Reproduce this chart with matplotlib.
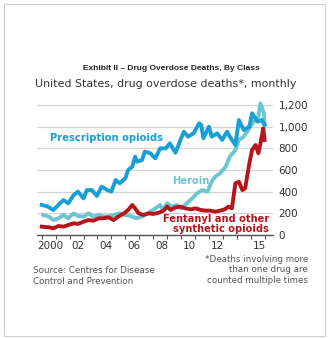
import matplotlib.pyplot as plt
from matplotlib.patches import Rectangle

# values (decimal year, deaths per month)
rx_years = [2000.0, 2000.4, 2000.84, 2001.3, 2001.56, 2001.9, 2002.3, 2002.6, 2003.0, 2003.24,
            2003.6, 2003.96, 2004.3, 2004.7, 2005.0, 2005.3, 2005.6, 2006.0, 2006.2, 2006.5,
            2006.7, 2006.85, 2007.2, 2007.4, 2007.8, 2008.15, 2008.5, 2008.9, 2009.2, 2009.6,
            2010.2, 2010.5, 2010.9, 2011.3, 2011.45, 2011.6, 2012.0, 2012.2, 2012.6, 2012.95,
            2013.3, 2013.5, 2013.9, 2014.15, 2014.5, 2014.9, 2015.1, 2015.5, 2015.8, 2016.0]
rx_vals = [277, 265, 231, 292, 323, 292, 370, 400, 338, 415,
           415, 360, 446, 415, 400, 508, 477, 523, 600, 631,
           723, 677, 692, 770, 754, 708, 800, 800, 846, 760,
           954, 908, 938, 1031, 1015, 892, 1000, 908, 938, 877,
           954, 908, 831, 1062, 969, 1000, 1123, 1046, 1062, 1015]

her_years = [2000.1, 2000.5, 2000.84, 2001.2, 2001.56, 2001.9, 2002.3, 2002.6, 2003.0, 2003.36,
             2003.7, 2004.1, 2004.5, 2004.9, 2005.2, 2005.6, 2006.0, 2006.4, 2006.8, 2007.2,
             2007.4, 2007.8, 2008.15, 2008.5, 2008.7, 2009.0, 2009.3, 2009.7, 2010.0, 2010.4,
             2010.8, 2011.15, 2011.5, 2011.9, 2012.2, 2012.45, 2012.8, 2013.2, 2013.5, 2013.9,
             2014.15, 2014.5, 2014.9, 2015.2, 2015.5, 2015.7, 2015.95, 2016.0]
her_vals = [185, 170, 138, 154, 185, 154, 200, 175, 170, 200,
            170, 185, 170, 175, 185, 200, 185, 175, 154, 170,
            185, 215, 246, 277, 231, 292, 262, 277, 246, 292,
            338, 385, 415, 400, 492, 538, 569, 631, 723, 785,
            877, 908, 985, 1046, 1062, 1215, 1123, 1031]

fen_years = [2000.0, 2000.5, 2000.84, 2001.2, 2001.56, 2001.9, 2002.3, 2002.6, 2003.0, 2003.36,
             2003.7, 2004.1, 2004.4, 2004.8, 2005.15, 2005.5, 2005.9, 2006.2, 2006.5, 2006.7,
             2006.95, 2007.3, 2007.7, 2008.0, 2008.4, 2008.75, 2009.0, 2009.25, 2009.6, 2009.95,
             2010.3, 2010.7, 2011.05, 2011.4, 2011.8, 2012.1, 2012.45, 2012.8, 2013.15, 2013.4,
             2013.65, 2013.9, 2014.15, 2014.4, 2014.6, 2014.9, 2015.1, 2015.35, 2015.55, 2015.7,
             2015.9, 2016.0]
fen_vals = [77, 71, 62, 83, 77, 92, 108, 102, 123, 138,
            132, 154, 154, 163, 138, 170, 200, 231, 277, 246,
            200, 185, 200, 194, 206, 225, 262, 231, 255, 262,
            246, 237, 246, 231, 225, 225, 215, 225, 237, 262,
            246, 477, 492, 415, 431, 661, 785, 831, 754, 846,
            985, 877]

yticks = [0, 200, 400, 600, 800, 1000, 1200]
ytick_labels = ['0', '200', '400', '600', '800', '1,000', '1,200']
xlabel_years = [2000, 2002, 2004, 2006, 2008, 2010, 2012, 2015]
xlabel_text = ['2000', '02', '04', '06', '08', '10', '12', '15']

blue = '#179fd6'
teal = '#6cc6cf'
red = '#b7141b'
W, H = 330, 338

fig = plt.figure(figsize=(W / 100, H / 100), dpi=100)
fig.patch.set_facecolor('white')

# light frame round the whole graphic
fig.add_artist(Rectangle((4 / W, 1 - 336 / H), 321 / W, 332 / H, transform=fig.transFigure,
                         fill=False, ec='#cfcfcf', lw=0.8))

ax = fig.add_axes([37 / W, 1 - 235 / H, 236 / W, (235 - 98.5) / H])
ax.set_xlim(1999.66, 2016.6)
ax.set_ylim(0, 1260)

for s in ['top', 'right', 'left']:
    ax.spines[s].set_visible(False)
ax.spines['bottom'].set_color('#555555')
ax.spines['bottom'].set_linewidth(1.0)

ax.grid(axis='y', color='#d4d4d4', lw=0.9)
ax.set_axisbelow(True)
ax.yaxis.tick_right()
ax.set_yticks(yticks)
ax.set_yticklabels(ytick_labels)
ax.tick_params(axis='y', length=0, pad=4, labelsize=7.5, labelcolor='#333333')

# year ticks at boundaries, labels centred in the year
ax.set_xticks(range(2000, 2017))
ax.set_xticklabels([])
ax.tick_params(axis='x', which='major', length=3, width=0.8, color='#555555', direction='out')
ax.set_xticks([y + 0.6 for y in xlabel_years], minor=True)
ax.set_xticklabels(xlabel_text, minor=True)
ax.tick_params(axis='x', which='minor', length=0, pad=4, labelsize=7.5, labelcolor='#333333')

lw = 2.8
ax.plot(her_years, her_vals, color=teal, lw=lw, solid_joinstyle='round', zorder=3)
ax.plot(fen_years, fen_vals, color=red, lw=lw, solid_joinstyle='round', zorder=4)
ax.plot(rx_years, rx_vals, color=blue, lw=lw, solid_joinstyle='round', zorder=5)

ax.text(2000.6, 895, 'Prescription opioids', color=blue, fontsize=7.2,
        fontweight='bold', va='center', ha='left')
ax.text(2009.35, 498, 'Heroin', color=teal, fontsize=7.2,
        fontweight='bold', va='center', ha='left')
ax.text(2016.3, 100, 'Fentanyl and other\nsynthetic opioids', color=red, fontsize=7.1,
        fontweight='bold', va='center', ha='right', multialignment='right', linespacing=0.95)

fig.text(171.5 / W, 1 - 69 / H, 'Exhibit II \u2013 Drug Overdose Deaths, By Class',
         family='Liberation Sans', fontweight='bold', fontsize=6.0, ha='center', va='center',
         color='#222222')
fig.text(35 / W, 1 - 84 / H, 'United States, drug overdose deaths*, monthly',
         fontsize=7.9, ha='left', va='center', color='#333333')

fig.text(33 / W, 1 - 276 / H, 'Source: Centres for Disease\nControl and Prevention',
         fontsize=6.3, ha='left', va='center', color='#555555', linespacing=1.15)
fig.text(308 / W, 1 - 270 / H, '*Deaths involving more\nthan one drug are\ncounted multiple times',
         fontsize=6.3, ha='right', va='center', color='#555555', multialignment='right',
         linespacing=1.15)

fig.savefig('out.png', dpi=100)
